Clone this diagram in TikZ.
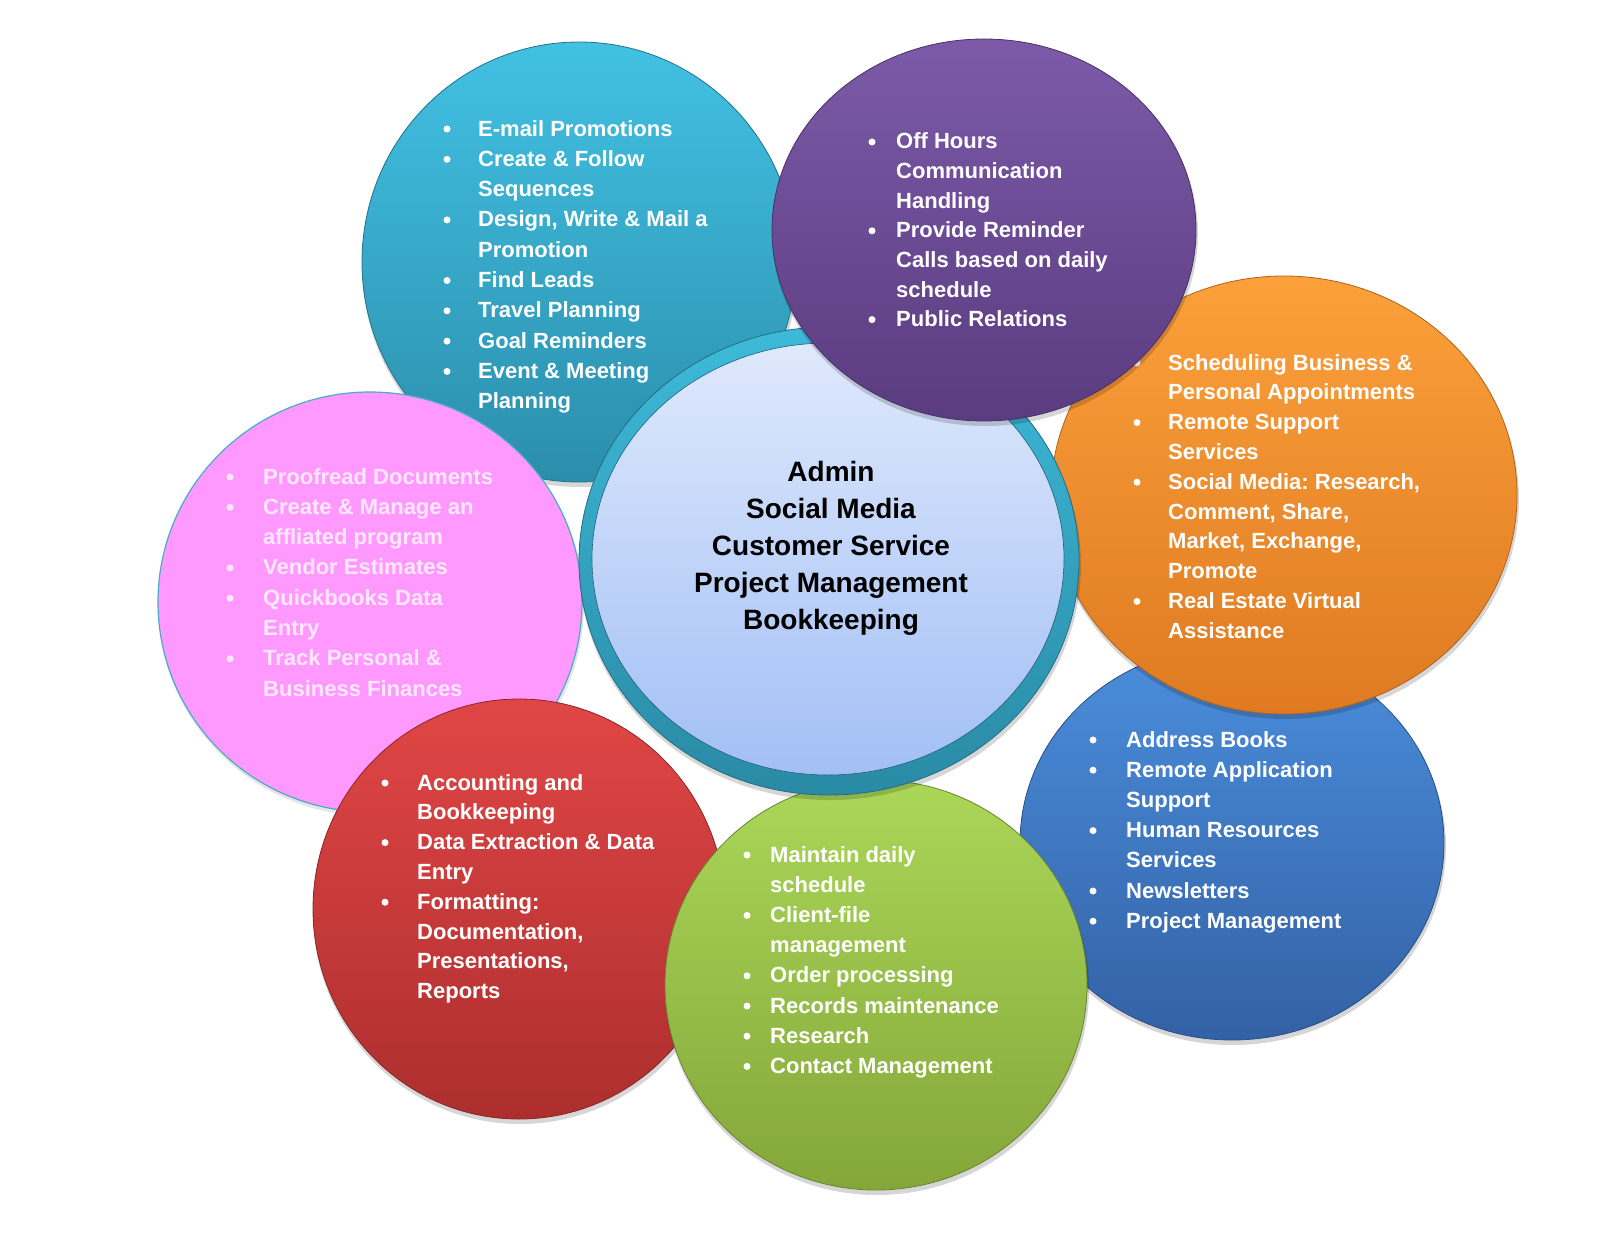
\documentclass[tikz,border=0pt]{standalone}
\usepackage{fontspec}
\setmainfont{Liberation Sans}
\frenchspacing
\definecolor{cyanT}{HTML}{42C1E3}
\definecolor{cyanB}{HTML}{2B8EAB}
\definecolor{purT}{HTML}{7C5AA8}
\definecolor{purB}{HTML}{5A3C80}
\definecolor{oraT}{HTML}{FBA03A}
\definecolor{oraB}{HTML}{DF7A22}
\definecolor{pinkF}{HTML}{FF99FF}
\definecolor{pinkE}{HTML}{4BACC6}
\definecolor{pinkTxt}{HTML}{FFE8FF}
\definecolor{redT}{HTML}{E14646}
\definecolor{redB}{HTML}{AD2E2E}
\definecolor{grnT}{HTML}{ABD758}
\definecolor{grnB}{HTML}{84A63A}
\definecolor{bluT}{HTML}{4B8EDC}
\definecolor{bluB}{HTML}{3361A5}
\definecolor{ringT}{HTML}{3DBAD9}
\definecolor{ringB}{HTML}{2A8AA5}
\definecolor{coreT}{HTML}{DFE9FC}
\definecolor{coreB}{HTML}{A2BFF5}
% #1 cx, #2 cy, #3 rx, #4 ry, #5 top colour, #6 bottom colour
\newcommand\mybubble[6]{%
  \fill[black,opacity=0.16] (#1+1,#2+4) ellipse [x radius=#3pt+1pt, y radius=#4pt+1pt];
  \path[top color=#5, bottom color=#6, draw=#6!80!black, line width=0.8pt]
    (#1,#2) ellipse [x radius=#3pt, y radius=#4pt];}
% #1 name, #2 bullet x, #3 text x, #4 first baseline, #5 step, #6 colour, #7 items
\newcommand\mylist[7]{%
  \foreach \isb/\txt [count=\i] in {#7} {%
    \pgfmathsetmacro\yy{#4+(\i-1)*#5}
    \node[itemtext, text=#6, anchor=base west] (#1-\i) at (#3,\yy) {\txt};
    \ifnum\isb=1 \fill[#6] (#2,\yy-7) circle (3.5pt); \fi
  }}
\begin{document}
\begin{tikzpicture}[x=1pt,y=-1pt,
  itemtext/.style={font=\fontsize{22}{30}\selectfont\bfseries, inner sep=0pt},
  centertext/.style={font=\fontsize{28}{37}\selectfont\bfseries, inner sep=0pt, text=black}]
\fill[white] (0,0) rectangle (1600,1236);
\useasboundingbox (0,0) rectangle (1600,1236);

% cyan
\mybubble{579}{262}{217}{220}{cyanT}{cyanB}
\mylist{cy}{447}{478}{136}{30.3}{white}{
  1/E-mail Promotions, 1/Create \& Follow, 0/Sequences,
  {1/Design, Write \& Mail a}, 0/Promotion, 1/Find Leads,
  1/Travel Planning, 1/Goal Reminders, 1/Event \& Meeting, 0/Planning}

% pink
\fill[black,opacity=0.10] (371,605) ellipse [x radius=213pt, y radius=211pt];
\path[fill=pinkF, draw=pinkE, line width=1.2pt] (370,602) ellipse [x radius=212pt, y radius=210pt];
\mylist{pk}{230}{263}{484}{30.3}{pinkTxt}{
  1/Proofread Documents, 1/Create \& Manage an, 0/affliated program,
  1/Vendor Estimates, 1/Quickbooks Data, 0/Entry,
  1/Track Personal \&, 0/Business Finances}

% red
\mybubble{519}{909}{206}{210}{redT}{redB}
\mylist{rd}{385}{417}{790}{29.8}{white}{
  1/Accounting and, 0/Bookkeeping, 1/Data Extraction \& Data, 0/Entry,
  1/Formatting:, {0/Documentation,}, {0/Presentations,}, 0/Reports}

% blue
\mybubble{1232}{843}{212}{197}{bluT}{bluB}
\mylist{bl}{1093}{1126}{747}{30.2}{white}{
  1/Address Books, 1/Remote Application, 0/Support,
  1/Human Resources, 0/Services, 1/Newsletters, 1/Project Management}

% orange
\mybubble{1284}{495}{233}{219}{oraT}{oraB}
\mylist{or}{1137}{1168}{370}{29.8}{white}{
  1/Scheduling Business \&, 0/Personal Appointments,
  1/Remote Support, 0/Services, {1/Social Media: Research,},
  {0/Comment, Share,}, {0/Market, Exchange,}, 0/Promote,
  1/Real Estate Virtual, 0/Assistance}

% green
\mybubble{876}{985}{211}{205}{grnT}{grnB}
\mylist{gr}{747}{770}{862}{30.2}{white}{
  1/Maintain daily, 0/schedule, 1/Client-file, 0/management,
  1/Order processing, 1/Records maintenance, 1/Research,
  1/Contact Management}

% centre
\fill[black,opacity=0.16] (830,565) ellipse [x radius=251pt, y radius=235pt];
\path[top color=ringT, bottom color=ringB, draw=ringB!80!black, line width=0.8pt]
  (829,561) ellipse [x radius=250pt, y radius=234pt];
\path[top color=coreT, bottom color=coreB, draw=ringB!70!black, line width=0.6pt]
  (828,559) ellipse [x radius=236pt, y radius=216pt];
\foreach \txt [count=\i] in {Admin, Social Media, Customer Service,
  Project Management, Bookkeeping} {%
  \pgfmathsetmacro\yy{481+(\i-1)*37.2}
  \node[centertext, anchor=base] (ct-\i) at (831,\yy) {\txt};
}

% purple
\mybubble{984}{230}{212}{191}{purT}{purB}
\mylist{pu}{872}{896}{149}{29.6}{white}{
  1/Off Hours, 0/Communication, 0/Handling, 1/Provide Reminder,
  0/Calls based on daily, 0/schedule, 1/Public Relations}
\end{tikzpicture}
\end{document}
